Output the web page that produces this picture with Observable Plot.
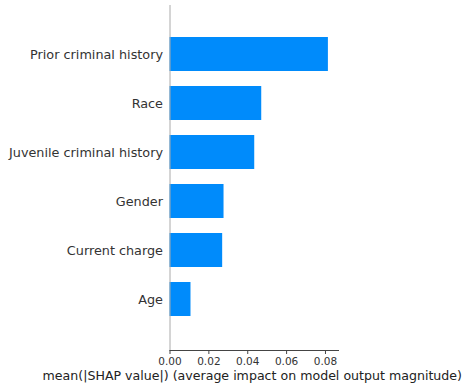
<!DOCTYPE html>
<html>
<head>
<meta charset="utf-8">
<script src="https://cdn.jsdelivr.net/npm/d3@7"></script>
<script src="https://cdn.jsdelivr.net/npm/@observablehq/plot@0.6"></script>
<style>
  html, body { margin: 0; padding: 0; background: #fff; }
  #chart svg { font-family: "DejaVu Sans", sans-serif; }
</style>
</head>
<body>
<div id="chart"></div>
<script>
const features = ["Prior criminal history", "Race", "Juvenile criminal history", "Gender", "Current charge", "Age"];
const meanAbsShap = [0.0815, 0.0472, 0.0436, 0.0278, 0.0271, 0.0108];
const xTicks = [0, 0.02, 0.04, 0.06, 0.08];
const xLabel = "mean(|SHAP value|) (average impact on model output magnitude)";

const rows = features.map((f, i) => ({feature: f, value: meanAbsShap[i]}));

const plot = Plot.plot({
  width: 467,
  height: 387,
  marginLeft: 169.5,
  marginRight: 129,
  marginTop: 5,
  marginBottom: 37,
  style: {fontFamily: "DejaVu Sans, sans-serif", background: "#fff", color: "#333"},
  x: {domain: [0, 0.0867]},
  y: {domain: features, range: [36, 318], paddingInner: 0.3, paddingOuter: 0},
  marks: [
    Plot.barX(rows, {x: "value", y: "feature", fill: "#008bfb"}),
    Plot.ruleX([0], {stroke: "#aaa", strokeWidth: 1}),
    Plot.frame({anchor: "bottom", stroke: "#444", strokeWidth: 1}),
    Plot.axisY({tickSize: 0, tickPadding: 7, fontSize: 12.8, label: null, fill: "#333"}),
    Plot.axisX({ticks: xTicks, tickFormat: d3.format(".2f"), tickSize: 4, tickPadding: 3.5, fontSize: 10.5, label: null, stroke: "#444", fill: "#333"}),
    Plot.text([xLabel], {text: d => d, frameAnchor: "bottom", dx: -2, dy: 29, fontSize: 12.6, fill: "#222"})
  ]
});
document.getElementById("chart").appendChild(plot);
</script>
</body>
</html>
